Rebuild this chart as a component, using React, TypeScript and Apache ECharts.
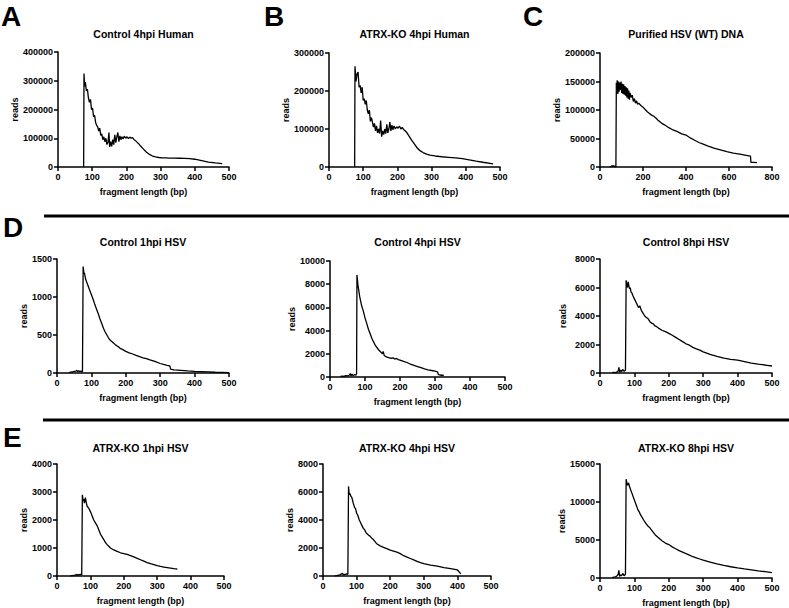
import React, { useEffect, useRef } from "react";
import * as echarts from "echarts";

// ---------- data (fragment length bp, reads) ----------
const aLen = [75, 76, 78, 80, 83, 86, 89, 92, 95, 98, 101, 104, 107, 110, 113, 116, 119, 122, 125, 128, 131, 134, 137, 140, 143, 146, 149, 151, 154, 157, 160, 163, 166, 169, 172, 175, 178, 181, 184, 187, 190, 194, 198, 202, 206, 210, 214, 218, 222, 228, 235, 242, 250, 258, 266, 275, 285, 295, 305, 315, 325, 340, 355, 370, 385, 400, 420, 440, 460, 480];
const aReads = [0, 325000, 280000, 295000, 265000, 270000, 240000, 225000, 235000, 200000, 205000, 175000, 180000, 155000, 145000, 140000, 125000, 135000, 110000, 115000, 95000, 105000, 88000, 100000, 78000, 85000, 120000, 70000, 88000, 72000, 95000, 78000, 112000, 85000, 105000, 120000, 88000, 108000, 95000, 105000, 98000, 107000, 100000, 105000, 99000, 104000, 100000, 102000, 96000, 90000, 82000, 72000, 62000, 52000, 45000, 39000, 35000, 33000, 32000, 31500, 31000, 31000, 30500, 30000, 29000, 27000, 22000, 17000, 14000, 12000];

const bLen = [75, 76, 79, 82, 85, 88, 91, 94, 97, 100, 103, 106, 109, 112, 115, 118, 121, 124, 127, 130, 133, 136, 139, 142, 145, 148, 151, 154, 157, 160, 163, 166, 169, 172, 175, 178, 181, 184, 187, 190, 194, 198, 202, 206, 210, 214, 218, 222, 228, 235, 242, 250, 258, 266, 275, 285, 295, 310, 330, 350, 370, 390, 410, 430, 450, 480];
const bReads = [0, 265000, 225000, 245000, 250000, 210000, 215000, 195000, 210000, 175000, 180000, 165000, 175000, 150000, 140000, 150000, 120000, 130000, 118000, 105000, 115000, 95000, 108000, 90000, 100000, 88000, 122000, 80000, 95000, 85000, 100000, 88000, 112000, 90000, 100000, 118000, 95000, 110000, 98000, 108000, 100000, 106000, 102000, 108000, 100000, 104000, 99000, 96000, 90000, 80000, 70000, 60000, 50000, 43000, 38000, 34000, 31000, 29000, 27000, 25500, 24000, 22000, 19000, 15500, 12500, 8500];

const cLen = [45, 50, 55, 58, 62, 66, 70, 74, 76, 78, 80, 83, 86, 89, 92, 95, 98, 101, 104, 107, 110, 113, 116, 119, 122, 125, 128, 131, 134, 137, 140, 145, 150, 155, 160, 165, 170, 175, 180, 190, 200, 210, 220, 230, 240, 250, 260, 270, 280, 290, 300, 320, 340, 360, 380, 400, 420, 440, 460, 480, 500, 530, 560, 590, 620, 650, 680, 700, 702, 715, 730];
const cReads = [0, 500, 2000, 1000, 2500, 500, 1500, 0, 148000, 130000, 152000, 128000, 150000, 132000, 148000, 135000, 150000, 130000, 146000, 128000, 145000, 127000, 142000, 125000, 140000, 122000, 138000, 120000, 134000, 118000, 130000, 122000, 126000, 115000, 120000, 112000, 116000, 110000, 112000, 108000, 105000, 101000, 97000, 94000, 91000, 89000, 86000, 82000, 79000, 76000, 74000, 69000, 65000, 62000, 58000, 56000, 51000, 47000, 43000, 40000, 37000, 33000, 30000, 27000, 24500, 22500, 20500, 19000, 8000, 8000, 7500];

const d1Len = [35, 40, 45, 50, 55, 58, 60, 63, 66, 70, 74, 76, 78, 80, 83, 86, 90, 95, 100, 105, 110, 115, 120, 125, 130, 135, 140, 145, 150, 155, 160, 165, 170, 175, 180, 185, 190, 200, 210, 220, 230, 240, 250, 260, 270, 280, 290, 300, 310, 320, 328, 330, 340, 360, 380, 400, 420, 440, 460, 480, 500];
const d1Reads = [5, 10, 15, 20, 25, 35, 15, 30, 20, 25, 15, 1400, 1320, 1310, 1240, 1200, 1150, 1090, 1030, 970, 900, 840, 780, 710, 650, 590, 540, 500, 460, 430, 410, 390, 370, 355, 340, 320, 310, 285, 265, 250, 232, 215, 200, 188, 172, 160, 142, 125, 112, 100, 95, 50, 40, 35, 28, 22, 18, 14, 10, 8, 5];

const d2Len = [30, 35, 40, 45, 50, 55, 58, 60, 63, 66, 70, 74, 76, 77, 80, 85, 90, 95, 100, 105, 110, 115, 120, 125, 130, 135, 140, 145, 150, 152, 155, 160, 165, 170, 175, 180, 185, 190, 195, 200, 210, 220, 230, 240, 250, 260, 270, 280, 290, 300, 307, 310, 318, 325];
const d2Reads = [50, 80, 60, 120, 90, 150, 300, 100, 250, 120, 200, 150, 300, 8800, 7900, 6900, 6200, 5700, 5100, 4600, 4100, 3700, 3300, 3000, 2700, 2500, 2300, 2150, 2000, 2200, 1850, 1750, 1700, 1650, 1600, 1650, 1550, 1600, 1500, 1450, 1350, 1250, 1100, 1000, 900, 800, 700, 620, 560, 500, 450, 200, 150, 150];

const d3Len = [35, 40, 45, 50, 53, 55, 57, 60, 63, 66, 70, 74, 76, 78, 80, 82, 84, 86, 88, 90, 93, 96, 100, 104, 108, 112, 116, 120, 125, 130, 135, 140, 145, 150, 155, 160, 165, 170, 180, 190, 200, 210, 220, 230, 240, 250, 260, 270, 280, 290, 300, 320, 340, 360, 380, 400, 420, 440, 460, 480, 500];
const d3Reads = [20, 50, 30, 80, 150, 400, 60, 200, 100, 250, 120, 200, 6500, 6200, 6000, 6400, 6100, 5900, 6000, 5700, 5600, 5400, 5200, 5000, 4800, 4600, 4700, 4400, 4200, 4000, 3900, 3800, 3600, 3500, 3450, 3300, 3250, 3150, 3000, 2900, 2780, 2650, 2500, 2350, 2200, 2050, 1950, 1800, 1700, 1600, 1480, 1300, 1170, 1050, 960, 900, 800, 700, 620, 560, 490];

const e1Len = [40, 45, 50, 55, 58, 60, 63, 66, 70, 74, 76, 78, 80, 82, 85, 88, 90, 93, 96, 100, 105, 110, 115, 120, 125, 130, 135, 140, 145, 150, 155, 160, 170, 180, 190, 200, 210, 220, 230, 240, 250, 260, 270, 280, 290, 300, 310, 320, 330, 340, 350, 360];
const e1Reads = [0, 10, 20, 30, 60, 30, 50, 40, 60, 40, 2900, 2700, 2750, 2600, 2800, 2600, 2500, 2450, 2400, 2300, 2150, 2000, 1900, 1800, 1650, 1500, 1400, 1300, 1200, 1120, 1060, 1000, 930, 880, 830, 800, 770, 730, 680, 630, 580, 530, 480, 440, 410, 370, 340, 320, 300, 280, 260, 250];

const e2Len = [35, 40, 45, 50, 55, 58, 60, 63, 66, 70, 74, 76, 78, 80, 83, 86, 90, 94, 97, 100, 104, 108, 112, 116, 120, 124, 128, 132, 136, 140, 145, 150, 155, 160, 170, 180, 190, 200, 210, 220, 230, 240, 250, 260, 270, 280, 290, 300, 320, 340, 360, 380, 400, 405, 410];
const e2Reads = [0, 20, 50, 80, 150, 200, 80, 120, 100, 150, 120, 6400, 5800, 5900, 5700, 5600, 5200, 4900, 4800, 4500, 4300, 4000, 3800, 3600, 3400, 3300, 3100, 3000, 2900, 2850, 2700, 2600, 2450, 2300, 2150, 2050, 1950, 1850, 1780, 1700, 1600, 1450, 1350, 1250, 1150, 1050, 950, 880, 780, 700, 600, 520, 430, 300, 150];

const e3Len = [35, 40, 45, 50, 53, 55, 57, 60, 63, 66, 70, 74, 76, 78, 80, 83, 86, 90, 94, 98, 102, 106, 110, 114, 118, 122, 126, 130, 135, 140, 145, 150, 155, 160, 170, 180, 190, 200, 210, 220, 230, 240, 250, 260, 270, 280, 290, 300, 320, 340, 360, 380, 400, 420, 440, 460, 480, 500];
const e3Reads = [50, 100, 150, 300, 500, 1000, 200, 400, 300, 600, 300, 500, 13000, 12500, 12200, 12500, 12000, 11500, 11000, 10500, 10000, 9500, 9000, 8700, 8300, 8000, 7700, 7400, 7100, 6800, 6600, 6300, 6000, 5700, 5300, 4900, 4600, 4400, 4100, 3850, 3600, 3400, 3200, 3000, 2800, 2650, 2500, 2350, 2100, 1850, 1650, 1480, 1330, 1200, 1080, 950, 830, 700];

const panelTitles = [
  "Control 4hpi Human",
  "ATRX-KO 4hpi Human",
  "Purified HSV (WT) DNA",
  "Control 1hpi HSV",
  "Control 4hpi HSV",
  "Control 8hpi HSV",
  "ATRX-KO 1hpi HSV",
  "ATRX-KO 4hpi HSV",
  "ATRX-KO 8hpi HSV",
];
const xMax = [500, 500, 800, 500, 500, 500, 500, 500, 500];
const xStep = [100, 100, 200, 100, 100, 100, 100, 100, 100];
const yMax = [400000, 300000, 200000, 1500, 10000, 8000, 4000, 8000, 15000];
const yStep = [100000, 100000, 50000, 500, 2000, 2000, 1000, 2000, 5000];
const panelLetters = ["A", "B", "C", "D", "E"];

// ---------- layout ----------
const grids = [
  { left: 58, top: 52, width: 171, height: 115 },
  { left: 329, top: 53, width: 171, height: 114 },
  { left: 600, top: 53, width: 172, height: 114 },
  { left: 57, top: 259, width: 172, height: 114 },
  { left: 330, top: 261, width: 175, height: 116 },
  { left: 600, top: 259, width: 172, height: 114 },
  { left: 57, top: 464, width: 167, height: 112 },
  { left: 323, top: 464, width: 168, height: 112 },
  { left: 600, top: 464, width: 172, height: 115 },
];
const titleTops = [28, 28, 28, 236, 236, 236, 442, 442, 442];
const yNameGaps = [37, 37, 36, 24, 33, 33, 27, 26, 33];
const letterPos = [
  [1, 16], [264, 16], [523, 16], [3, 227], [3, 437],
];

const FONT = "Liberation Sans, Arial, Helvetica, sans-serif";

export default function App() {
  const ref = useRef<HTMLDivElement>(null);
  useEffect(() => {
    if (!ref.current) return;
    const chart = echarts.init(ref.current, undefined, { renderer: "svg" });
    const lens = [aLen, bLen, cLen, d1Len, d2Len, d3Len, e1Len, e2Len, e3Len];
    const reads = [aReads, bReads, cReads, d1Reads, d2Reads, d3Reads, e1Reads, e2Reads, e3Reads];

    const axisCommon = {
      axisLine: { show: true, onZero: false, lineStyle: { color: "#000", width: 1.5 } },
      axisTick: { show: true, length: 4, lineStyle: { color: "#000", width: 1.5 } },
      axisLabel: {
        color: "#000", fontWeight: "bold", fontSize: 9, margin: 5, fontFamily: FONT,
        formatter: (v: number) => String(v),
      },
      splitLine: { show: false },
      nameTextStyle: { color: "#000", fontWeight: "bold", fontSize: 9, fontFamily: FONT },
    };

    const option: any = {
      animation: false,
      backgroundColor: "#fff",
      title: panelTitles.map((t, i) => ({
        text: t,
        left: grids[i].left + grids[i].width / 2,
        top: titleTops[i],
        textAlign: "center",
        padding: 0,
        textStyle: { color: "#000", fontWeight: "bold", fontSize: 10.5, fontFamily: FONT },
      })),
      grid: grids.map((g) => ({ ...g, containLabel: false })),
      xAxis: grids.map((_, i) => ({
        type: "value",
        gridIndex: i,
        min: 0,
        max: xMax[i],
        interval: xStep[i],
        name: "fragment length (bp)",
        nameLocation: "middle",
        nameGap: 20,
        ...axisCommon,
      })),
      yAxis: grids.map((_, i) => ({
        type: "value",
        gridIndex: i,
        min: 0,
        max: yMax[i],
        interval: yStep[i],
        name: "reads",
        nameLocation: "middle",
        nameRotate: 90,
        nameGap: yNameGaps[i],
        ...axisCommon,
      })),
      series: grids.map((_, i) => ({
        type: "line",
        xAxisIndex: i,
        yAxisIndex: i,
        showSymbol: false,
        symbol: "none",
        lineStyle: { color: "#000", width: 1.3 },
        data: lens[i].map((x, k) => [x, reads[i][k]]),
      })),
      graphic: [
        ...panelLetters.map((l, i) => ({
          type: "text",
          left: letterPos[i][0],
          top: letterPos[i][1] - 14,
          style: { text: l, fill: "#000", font: `bold 28px ${FONT}` },
        })),
        { type: "line", shape: { x1: 44, y1: 216, x2: 789, y2: 216 }, style: { stroke: "#000", lineWidth: 3 } },
        { type: "line", shape: { x1: 43, y1: 420, x2: 789, y2: 420 }, style: { stroke: "#000", lineWidth: 3 } },
      ],
    };
    chart.setOption(option);
    return () => chart.dispose();
  }, []);
  return <div ref={ref} style={{ position: "absolute", left: 0, top: 0, width: 789, height: 608 }} />;
}
